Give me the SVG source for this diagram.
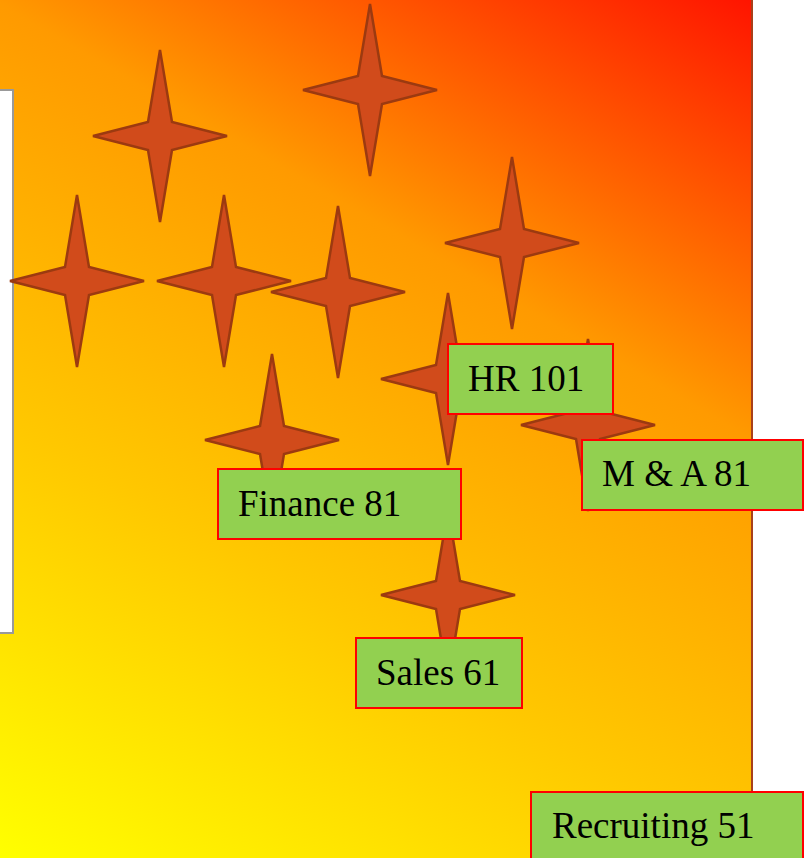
<svg xmlns="http://www.w3.org/2000/svg" width="806" height="858" viewBox="0 0 806 858">
  <defs>
    <linearGradient id="bg" gradientUnits="userSpaceOnUse" x1="0" y1="858" x2="560" y2="-111">
      <stop offset="0" stop-color="#FFFF00"/>
      <stop offset="0.34" stop-color="#FFC800"/>
      <stop offset="0.66" stop-color="#FF9A00"/>
      <stop offset="1" stop-color="#FF1400"/>
    </linearGradient>
    <path id="star" d="M0,-86 L12,-14 L67,0 L12,14 L0,86 L-12,14 L-67,0 L-12,-14 Z"/>
  </defs>
  <style>
    .star { fill: #D14B1B; stroke: #9C3A10; stroke-width: 2.5; stroke-linejoin: miter; }
    .box { fill: #92D050; stroke: #FF0000; stroke-width: 2; }
    .lbl { font-family: "Liberation Serif", "Times New Roman", serif; font-size: 37px; fill: #000000; }
  </style>
  <rect id="background" x="-2" y="-2" width="754" height="862" fill="url(#bg)" stroke="#A8401A" stroke-width="2"/>
  <rect id="panel" x="-10" y="90" width="23" height="543" fill="#FFFFFF" stroke="#999999" stroke-width="2"/>
  <g id="stars">
    <use href="#star" class="star" transform="translate(160,136)"/>
    <use href="#star" class="star" transform="translate(370,90)"/>
    <use href="#star" class="star" transform="translate(512,243)"/>
    <use href="#star" class="star" transform="translate(77,281)"/>
    <use href="#star" class="star" transform="translate(224,281)"/>
    <use href="#star" class="star" transform="translate(338,292)"/>
    <use href="#star" class="star" transform="translate(448,379)"/>
    <use href="#star" class="star" transform="translate(272,440)"/>
    <use href="#star" class="star" transform="translate(588,425)"/>
    <use href="#star" class="star" transform="translate(448,595)"/>
  </g>
  <g id="connectors"></g>
  <g id="node-hr">
    <rect class="box" x="448" y="344" width="165" height="70"/>
    <text class="lbl" x="468" y="391">HR 101</text>
  </g>
  <g id="node-finance">
    <rect class="box" x="218" y="469" width="243" height="70"/>
    <text class="lbl" x="238" y="516">Finance 81</text>
  </g>
  <g id="node-ma">
    <rect class="box" x="582" y="440" width="221" height="70"/>
    <text class="lbl" x="602" y="486">M &amp; A 81</text>
  </g>
  <g id="node-sales">
    <rect class="box" x="356" y="638" width="166" height="70"/>
    <text class="lbl" x="376" y="685">Sales 61</text>
  </g>
  <g id="node-recruiting">
    <rect class="box" x="531" y="792" width="272" height="70"/>
    <text class="lbl" x="552" y="838">Recruiting 51</text>
  </g>
</svg>
